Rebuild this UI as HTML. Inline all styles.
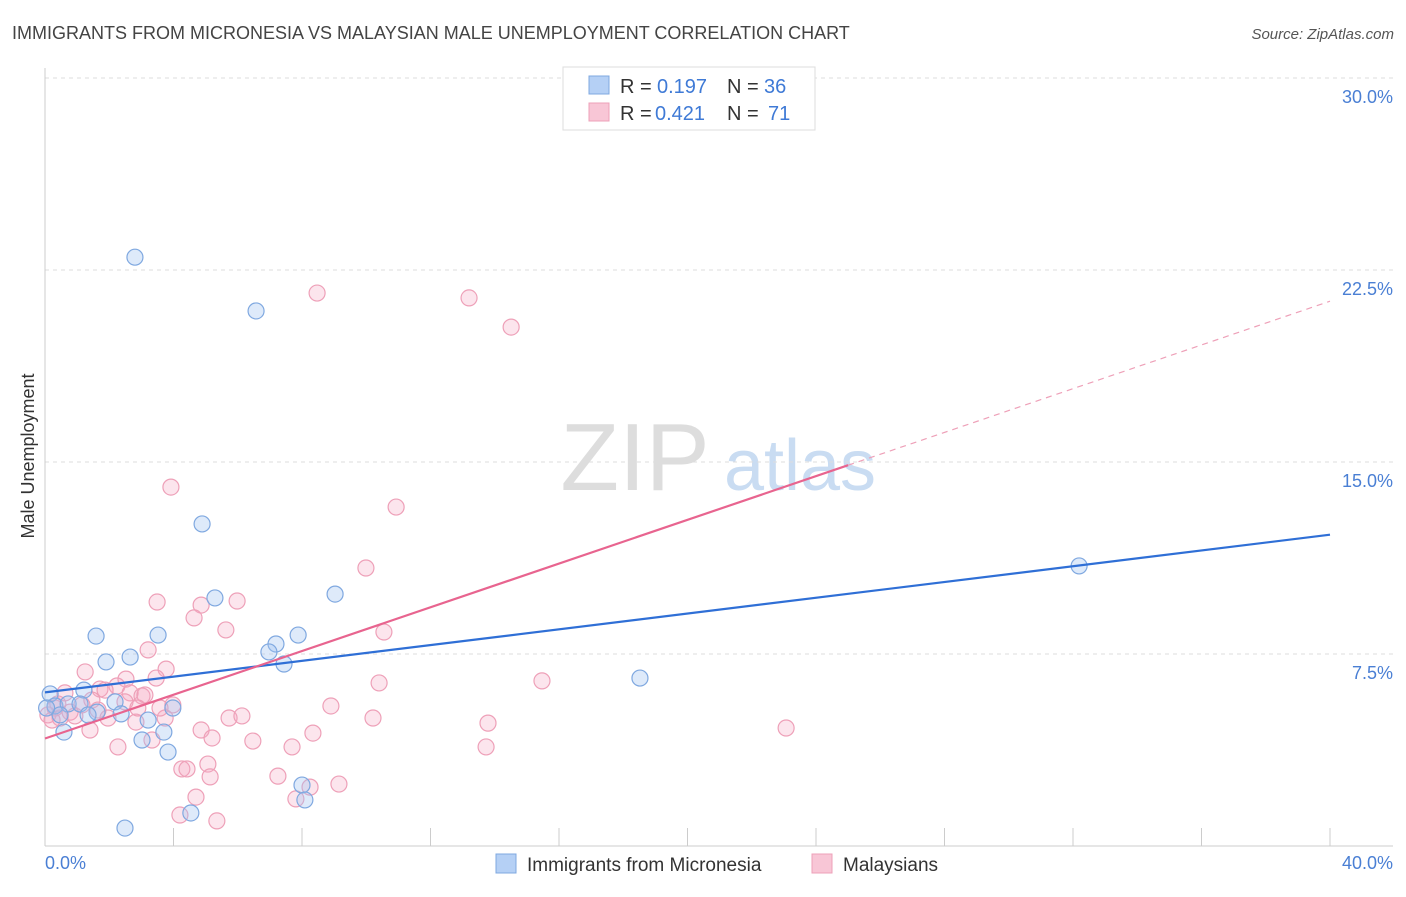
<!DOCTYPE html>
<html><head><meta charset="utf-8"><style>
body{margin:0;background:#fff;font-family:"Liberation Sans",sans-serif}
svg text{font-family:"Liberation Sans",sans-serif}
</style></head><body>
<svg id="chart" width="1406" height="892" viewBox="0 0 1406 892" xmlns="http://www.w3.org/2000/svg">
<text x="12" y="39" font-size="18" fill="#444">IMMIGRANTS FROM MICRONESIA VS MALAYSIAN MALE UNEMPLOYMENT CORRELATION CHART</text>
<text x="1394" y="39" font-size="15" fill="#555" text-anchor="end" font-style="italic">Source: ZipAtlas.com</text>
<g>
<text x="635" y="490" font-size="96" fill="#ddd" font-family="Liberation Serif" text-anchor="middle">ZIP</text>
<text x="800" y="490" font-size="72" fill="#c9dcf2" text-anchor="middle">atlas</text>
</g>
<g id="grid"></g><g id="axes"></g><g id="marks"></g>
<text transform="translate(34,456) rotate(-90)" font-size="18" fill="#333" text-anchor="middle">Male Unemployment</text>
<g>
<rect x="563" y="67" width="252" height="63" fill="#fff" stroke="#ddd"/>
<rect x="589" y="76" width="20" height="18" fill="#b5d0f5" stroke="#7fa8e0"/>
<rect x="589" y="103" width="20" height="18" fill="#f8c6d6" stroke="#eea0b8"/>
<text x="620" y="93" font-size="20" fill="#333">R =</text>
<text x="657" y="93" font-size="20" fill="#3f7ad6">0.197</text>
<text x="727" y="93" font-size="20" fill="#333">N =</text>
<text x="764" y="93" font-size="20" fill="#3f7ad6">36</text>
<text x="620" y="120" font-size="20" fill="#333">R =</text>
<text x="655" y="120" font-size="20" fill="#3f7ad6">0.421</text>
<text x="727" y="120" font-size="20" fill="#333">N =</text>
<text x="768" y="120" font-size="20" fill="#3f7ad6">71</text>
</g>
<g>
<rect x="496" y="854" width="20" height="19" fill="#b5d0f5" stroke="#7fa8e0"/>
<text x="527" y="871" font-size="19" fill="#333">Immigrants from Micronesia</text>
<rect x="812" y="854" width="20" height="19" fill="#f8c6d6" stroke="#eea0b8"/>
<text x="843" y="871" font-size="19" fill="#333">Malaysians</text>
</g>
</svg>
<script>
const yTicks=[7.5,15,22.5,30];
const yTickLabels=["7.5%","15.0%","22.5%","30.0%"];
const xTicks=[0,4,8,12,16,20,24,28,32,36,40];
const blueX=[2.80,6.57,4.89,32.19,9.03,5.29,1.59,3.52,7.88,7.19,6.97,7.44,2.65,1.90,18.52,0.16,1.21,0.31,0.72,1.09,2.18,1.62,2.37,3.98,3.21,0.59,3.70,3.02,3.83,8.00,8.09,4.54,2.49,0.47,0.05,1.34];
const blueY=[23.0,20.9,12.58,10.94,9.84,9.69,8.20,8.24,8.24,7.89,7.58,7.11,7.38,7.19,6.56,5.94,6.09,5.47,5.55,5.55,5.63,5.23,5.16,5.39,4.92,4.45,4.45,4.14,3.67,2.38,1.80,1.29,0.70,5.12,5.39,5.12];
const pinkX=[8.47,13.20,14.51,3.92,10.93,9.99,3.49,5.98,4.86,4.64,5.63,10.55,3.21,3.77,1.25,2.52,3.46,10.40,15.47,2.24,1.71,0.62,2.65,3.02,3.11,1.46,2.49,3.98,8.90,1.15,0.31,0.78,0.09,0.47,1.96,3.74,2.83,13.79,10.21,5.73,6.13,23.07,1.40,4.86,8.34,5.20,6.47,3.33,2.27,7.69,13.73,5.07,4.26,4.42,5.14,7.25,9.15,8.25,7.81,4.70,4.20,5.35,0.22,0.93,0.40,1.87,1.65,2.89,3.58];
const pinkY=[21.60,21.41,20.27,14.02,13.24,10.86,9.53,9.57,9.41,8.91,8.44,8.36,7.66,6.91,6.80,6.52,6.56,6.37,6.45,6.25,6.13,5.98,5.98,5.86,5.90,5.70,5.63,5.51,5.47,5.51,5.39,5.23,5.12,5.00,5.00,5.00,4.84,4.80,5.00,5.00,5.08,4.61,4.53,4.53,4.41,4.22,4.10,4.14,3.87,3.87,3.87,3.20,3.01,3.01,2.70,2.73,2.42,2.30,1.84,1.91,1.21,0.98,4.92,5.08,5.55,6.09,5.31,5.39,5.39];
const blueTrend=[6.0,0.154];
const pinkTrend=[4.2,0.427];
const pinkSolidEnd=25;
const NS="http://www.w3.org/2000/svg";
const sx=v=>45+v*32.125, sy=v=>846-v*25.6;
function mk(tag,attrs,parent){const e=document.createElementNS(NS,tag);for(const k in attrs)e.setAttribute(k,attrs[k]);document.getElementById(parent).appendChild(e);return e;}
yTicks.forEach((t,i)=>{
 const l=mk('line',{x1:45,x2:1393,y1:sy(t),y2:sy(t),stroke:'#ddd','stroke-dasharray':'4,4'},'grid');
 
 
 const tx=mk('text',{x:1393,y:sy(t)+25,'font-size':18,fill:'#4a7fd4','text-anchor':'end'},'grid');
 tx.textContent=yTickLabels[i];
 
 
});
const ya=mk('line',{x1:45,x2:45,y1:68,y2:846,stroke:'#ccc'},'axes');


const xa=mk('line',{x1:45,x2:1393,y1:846,y2:846,stroke:'#ccc'},'axes');


xTicks.forEach(t=>{
 const l=mk('line',{x1:sx(t),x2:sx(t),y1:828,y2:846,stroke:'#ccc'},'axes');
 
 
});
const x0=mk('text',{x:45,y:869,'font-size':18,fill:'#4a7fd4'},'axes');x0.textContent='0.0%';


const x1=mk('text',{x:1393,y:869,'font-size':18,fill:'#4a7fd4','text-anchor':'end'},'axes');x1.textContent='40.0%';


pinkX.forEach((x,i)=>{
 const c=mk('circle',{cx:sx(x),cy:sy(pinkY[i]),r:8,fill:'rgba(245,170,195,0.3)',stroke:'#eea0b8','stroke-width':1.2},'marks');
 
 
});
blueX.forEach((x,i)=>{
 const c=mk('circle',{cx:sx(x),cy:sy(blueY[i]),r:8,fill:'rgba(160,196,240,0.35)',stroke:'#7fa8e0','stroke-width':1.2},'marks');
 
 
});
const bl=mk('line',{x1:sx(0),y1:sy(blueTrend[0]),x2:sx(40),y2:sy(blueTrend[0]+blueTrend[1]*40),stroke:'#2f6fd6','stroke-width':2.2},'marks');


const pl=mk('line',{x1:sx(0),y1:sy(pinkTrend[0]),x2:sx(pinkSolidEnd),y2:sy(pinkTrend[0]+pinkTrend[1]*pinkSolidEnd),stroke:'#e8648f','stroke-width':2.2},'marks');


const pd=mk('line',{x1:sx(pinkSolidEnd),y1:sy(pinkTrend[0]+pinkTrend[1]*pinkSolidEnd),x2:sx(40),y2:sy(pinkTrend[0]+pinkTrend[1]*40),stroke:'#eea0b8','stroke-width':1.2,'stroke-dasharray':'6,5'},'marks');


</script>
</body></html>
